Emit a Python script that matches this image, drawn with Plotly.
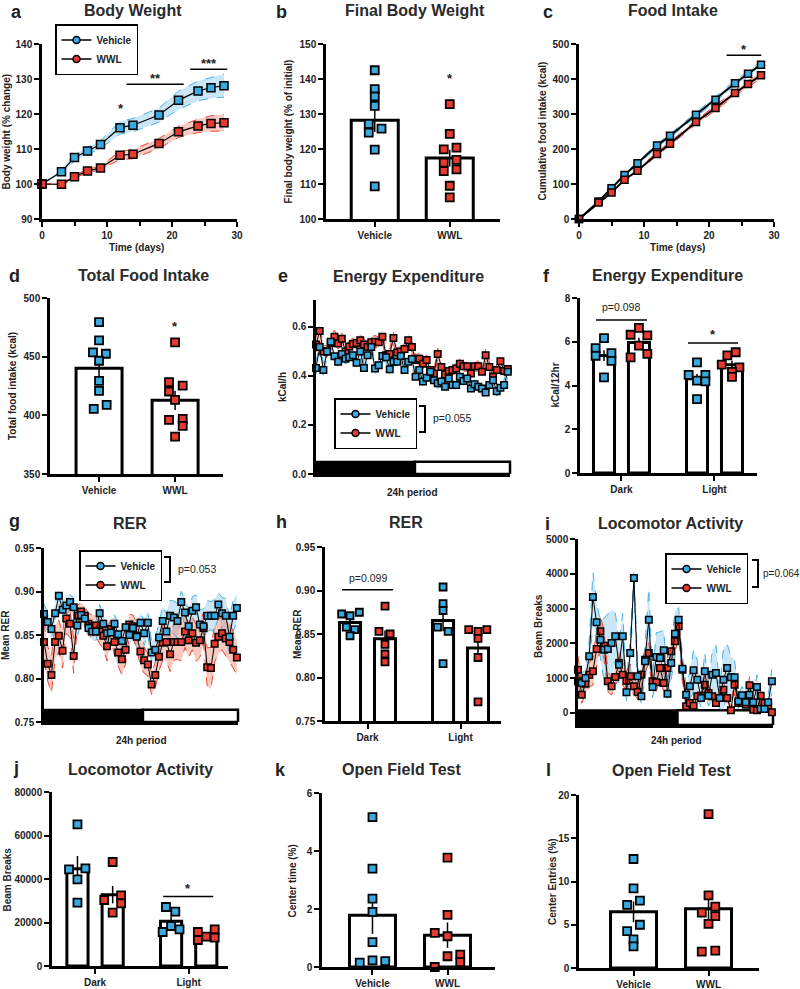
import plotly.graph_objects as go
import statistics as st

W, H = 800, 989
FONT = "Liberation Sans, Arial, Helvetica, sans-serif"
INK = "#222222"
BLUE = "#3AA9E0"
RED = "#E63B2E"
BLUE_LINE = "#45B2E8"
RED_LINE = "#EE4535"
BLUE_FILL = "rgba(80,175,230,0.30)"
RED_FILL = "rgba(235,90,60,0.32)"

# ---------------- data ----------------
# a: body weight (% change)
days = [0, 3, 5, 7, 9, 12, 14, 18, 21, 24, 26, 28]
bw_veh = [100, 103.5, 107.6, 109.4, 111.3, 116.1, 116.8, 119.7, 123.9, 126.6, 127.5, 128.1]
bw_veh_sem = [0, 0.6, 1.0, 1.1, 1.1, 1.8, 1.9, 2.0, 2.6, 2.8, 3.0, 3.3]
bw_wwl = [100, 99.9, 102.1, 103.7, 104.6, 108.2, 108.5, 111.6, 114.9, 116.6, 117.3, 117.5]
bw_wwl_sem = [0, 0.3, 0.4, 0.5, 0.5, 1.2, 1.3, 1.4, 1.6, 1.9, 2.2, 2.4]

# b: final body weight
fbw_veh = [142.5, 137.1, 135.0, 132.3, 127.2, 124.7, 125.8, 119.8, 109.3]
fbw_wwl = [132.8, 124.3, 119.9, 120.4, 116.1, 116.9, 113.7, 114.2, 109.5, 106.2]

# c: cumulative food intake
fi_veh = [0, 50, 88, 126, 159, 210, 238, 298, 341, 388, 415, 441]
fi_veh_sem = [0, 2, 3, 4, 4, 5, 5, 6, 7, 8, 8, 9]
fi_wwl = [0, 47, 76, 112, 138, 186, 215, 277, 317, 360, 386, 411]
fi_wwl_sem = [0, 2, 3, 3, 4, 5, 5, 6, 7, 8, 8, 9]

# d: total food intake
tfi_veh = [479.5, 463.8, 453.6, 452.5, 446.5, 429.4, 420.9, 405.5, 408.9]
tfi_wwl = [462.1, 428.3, 425.4, 420.3, 413.2, 396.1, 396.9, 391.0, 381.9]

# e: energy expenditure over 24h
ee_veh = [0.433, 0.518, 0.424, 0.50, 0.54, 0.48, 0.458, 0.49, 0.47, 0.476,
          0.485, 0.454, 0.50, 0.433, 0.485, 0.518, 0.43, 0.444, 0.482, 0.476,
          0.427, 0.458, 0.458, 0.481, 0.424, 0.458, 0.469, 0.397, 0.424, 0.377,
          0.393, 0.417, 0.383, 0.370, 0.377, 0.356, 0.390, 0.363, 0.363, 0.397,
          0.379, 0.390, 0.349, 0.366, 0.356, 0.349, 0.333, 0.363, 0.383, 0.338,
          0.352, 0.363, 0.417]
ee_veh_sem = [0.025, 0.022, 0.028, 0.02, 0.021, 0.018, 0.02, 0.019, 0.022, 0.018,
              0.021, 0.017, 0.02, 0.022, 0.018, 0.021, 0.019, 0.02, 0.023, 0.018,
              0.02, 0.017, 0.021, 0.019, 0.02, 0.018, 0.02, 0.022, 0.019, 0.02,
              0.018, 0.021, 0.019, 0.02, 0.022, 0.018, 0.02, 0.019, 0.021, 0.018,
              0.02, 0.017, 0.021, 0.019, 0.02, 0.022, 0.018, 0.02, 0.019, 0.02,
              0.018, 0.021, 0.02]
ee_wwl = [0.528, 0.583, 0.50, 0.50, 0.535, 0.56, 0.532, 0.552, 0.50, 0.52,
          0.53, 0.535, 0.546, 0.528, 0.518, 0.538, 0.54, 0.538, 0.56, 0.485,
          0.49, 0.555, 0.496, 0.50, 0.51, 0.546, 0.518, 0.465, 0.47, 0.45,
          0.465, 0.424, 0.41, 0.49, 0.437, 0.406, 0.42, 0.424, 0.43, 0.45,
          0.44, 0.44, 0.41, 0.44, 0.44, 0.417, 0.485, 0.437, 0.397, 0.424,
          0.46, 0.42, 0.428]
ee_wwl_sem = [0.03, 0.028, 0.025, 0.022, 0.025, 0.027, 0.022, 0.025, 0.02, 0.023,
              0.025, 0.021, 0.024, 0.022, 0.02, 0.023, 0.025, 0.021, 0.024, 0.02,
              0.022, 0.025, 0.021, 0.02, 0.023, 0.024, 0.021, 0.02, 0.022, 0.019,
              0.021, 0.02, 0.018, 0.023, 0.02, 0.018, 0.02, 0.021, 0.019, 0.02,
              0.021, 0.019, 0.018, 0.02, 0.021, 0.019, 0.024, 0.02, 0.018, 0.02,
              0.022, 0.019, 0.02]

# f: energy expenditure per 12h
f_dark_veh = [5.71, 6.17, 5.36, 5.48, 5.13, 4.37]
f_dark_wwl = [6.32, 6.63, 6.29, 5.82, 5.29, 5.45]
f_light_veh = [5.06, 4.49, 4.49, 4.22, 4.19, 3.38]
f_light_wwl = [5.38, 5.52, 4.95, 4.83, 4.62, 4.39]

# g: RER over 24h
rer_veh = [0.874, 0.865, 0.857, 0.875, 0.895, 0.879, 0.884, 0.888, 0.882, 0.861,
           0.873, 0.869, 0.858, 0.854, 0.854, 0.875, 0.863, 0.852, 0.853, 0.863,
           0.851, 0.843, 0.859, 0.850, 0.858, 0.848, 0.864, 0.852, 0.864, 0.830,
           0.833, 0.847, 0.866, 0.854, 0.872, 0.870, 0.866, 0.888, 0.876, 0.860,
           0.878, 0.882, 0.862, 0.860, 0.872, 0.872, 0.872, 0.885, 0.875, 0.872,
           0.848, 0.872, 0.881]
rer_veh_sem = [0.012, 0.01, 0.011, 0.01, 0.008, 0.01, 0.011, 0.009, 0.01, 0.012,
               0.01, 0.011, 0.009, 0.01, 0.011, 0.01, 0.009, 0.01, 0.011, 0.01,
               0.012, 0.011, 0.01, 0.012, 0.011, 0.013, 0.012, 0.014, 0.013, 0.012,
               0.014, 0.016, 0.018, 0.02, 0.018, 0.019, 0.02, 0.012, 0.015, 0.018,
               0.016, 0.014, 0.017, 0.02, 0.018, 0.016, 0.019, 0.014, 0.018, 0.02,
               0.022, 0.018, 0.016]
rer_wwl = [0.842, 0.817, 0.804, 0.842, 0.849, 0.832, 0.869, 0.863, 0.826, 0.872,
           0.877, 0.872, 0.863, 0.860, 0.861, 0.854, 0.849, 0.837, 0.857, 0.842,
           0.830, 0.822, 0.833, 0.862, 0.860, 0.849, 0.831, 0.821, 0.816, 0.793,
           0.804, 0.825, 0.841, 0.842, 0.828, 0.842, 0.842, 0.842, 0.854, 0.844,
           0.852, 0.841, 0.844, 0.858, 0.813, 0.812, 0.840, 0.848, 0.852, 0.846,
           0.842, 0.833, 0.824]
rer_wwl_sem = [0.022, 0.02, 0.021, 0.02, 0.018, 0.02, 0.017, 0.016, 0.02, 0.012,
               0.01, 0.011, 0.012, 0.013, 0.012, 0.014, 0.015, 0.017, 0.013, 0.015,
               0.016, 0.018, 0.016, 0.012, 0.013, 0.015, 0.017, 0.015, 0.013, 0.012,
               0.015, 0.016, 0.02, 0.022, 0.02, 0.021, 0.02, 0.022, 0.018, 0.02,
               0.019, 0.021, 0.02, 0.018, 0.022, 0.024, 0.021, 0.02, 0.019, 0.02,
               0.022, 0.021, 0.02]

# h: mean RER
h_dark_veh = [0.873, 0.871, 0.875, 0.858, 0.855, 0.848]
h_dark_wwl = [0.882, 0.853, 0.850, 0.838, 0.827, 0.818]
h_light_veh = [0.904, 0.885, 0.877, 0.858, 0.853, 0.816]
h_light_wwl = [0.855, 0.853, 0.855, 0.845, 0.823, 0.772]

# i: locomotor activity over 24h
loc_veh = [910, 862, 1006, 1628, 3333, 2605, 2107, 1820, 1839, 2011,
           2203, 1389, 2203, 594, 1724, 3879, 1054, 479, 1485, 2682,
           747, 1609, 1580, 1801, 556, 1437, 2280, 2682, 1274, 527,
           766, 1226, 958, 431, 1197, 498, 1102, 1149, 431, 958,
           1293, 1025, 1025, 335, 508, 307, 527, 307, 747, 115,
           115, 307, 910]
loc_veh_sem = [300, 250, 300, 450, 700, 600, 500, 900, 1000, 950,
               700, 600, 650, 250, 450, 200, 400, 200, 500, 900,
               300, 700, 750, 600, 250, 500, 650, 350, 400, 250,
               400, 600, 550, 250, 550, 300, 700, 800, 300, 900,
               700, 600, 500, 200, 250, 200, 300, 200, 350, 80,
               100, 200, 350]
loc_wwl = [1245, 527, 843, 1102, 1197, 1839, 2347, 1935, 910, 766,
           1034, 1437, 1102, 929, 1054, 766, 604, 1102, 1533, 1724,
           910, 881, 1293, 862, 1293, 1772, 2059, 2490, 1245, 192,
           287, 211, 479, 498, 814, 575, 479, 287, 431, 671,
           431, 77, 814, 287, 287, 240, 795, 96, 77, 498,
           287, 211, 19]
loc_wwl_sem = [400, 250, 300, 350, 400, 500, 450, 400, 300, 250,
               300, 350, 300, 300, 350, 250, 200, 300, 350, 300,
               250, 250, 350, 250, 300, 350, 350, 300, 300, 80,
               100, 100, 150, 150, 250, 200, 150, 100, 150, 200,
               150, 60, 250, 100, 100, 100, 250, 60, 60, 150,
               100, 80, 30]

# j: locomotor activity per phase
j_dark_veh = [65135, 44444, 44904, 39847, 29119]
j_dark_wwl = [47816, 30345, 32490, 28812, 24521]
j_light_veh = [27126, 24980, 18391, 15632, 16858]
j_light_wwl = [15632, 16858, 13487, 11954, 13027]

# k: open field center time (%)
k_veh = [5.17, 3.39, 2.36, 1.90, 0.86, 0.15, 0.23, 0.20]
k_wwl = [3.77, 1.80, 1.18, 1.06, 0.37, 0.43, 0.17, 0.0]

# l: open field center entries (%)
l_veh = [12.6, 9.2, 7.3, 7.8, 5.0, 4.27, 3.3, 2.5]
l_wwl = [17.8, 8.4, 6.4, 7.1, 6.0, 5.1, 1.9, 2.0]

groups2 = ["Vehicle", "WWL"]
phases = ["Dark", "Light"]

# ---------------- layout helpers (positions / styles) ----------------
fig = go.Figure()
TICKFONT = dict(family=FONT, size=10, color=INK, weight="bold")


def r(kind, n):
    return kind + ("" if n == 1 else str(n))


def setup(n, xpx, ypx, xr, yr, xt=None, yt=None):
    base = dict(showline=True, linecolor="black", linewidth=2.5, ticks="outside",
                ticklen=5, tickwidth=2, tickcolor="black", showgrid=False, automargin=False,
                zeroline=False, tickfont=TICKFONT, fixedrange=True)
    xa = dict(base, domain=[xpx[0] / W, xpx[1] / W], anchor=r("y", n), range=xr)
    xa.update(xt or {})
    ya = dict(base, domain=[1 - ypx[1] / H, 1 - ypx[0] / H], anchor=r("x", n), range=yr)
    ya.update(yt or {})
    fig.update_layout({r("x", n).replace("x", "xaxis"): xa, r("y", n).replace("y", "yaxis"): ya})


def ann(xp, yp, text, size=10, bold=True, xanchor="center", angle=0, color=INK):
    fig.add_annotation(x=xp / W, y=1 - yp / H, xref="paper", yref="paper", text=text,
                       showarrow=False, xanchor=xanchor, yanchor="middle", textangle=angle,
                       font=dict(family=FONT, size=size, color=color,
                                 weight="bold" if bold else "normal"))


def star(n, x, y, text="*"):
    fig.add_annotation(x=x, y=y, xref=r("x", n), yref=r("y", n), text=text, showarrow=False,
                       yshift=-3, font=dict(family=FONT, size=13, color=INK, weight="bold"))


def ptext(n, x, y, text):
    fig.add_annotation(x=x, y=y, xref=r("x", n), yref=r("y", n), text=text, showarrow=False,
                       font=dict(family=FONT, size=10.5, color=INK))


def hline(n, x0, x1, y):
    fig.add_shape(type="line", xref=r("x", n), yref=r("y", n), x0=x0, x1=x1, y0=y, y1=y,
                  line=dict(color="black", width=1.5))


def series(n, x, mean, sem, color, lcolor, fill, msize=8, lw=1.2):
    lo = [m - s for m, s in zip(mean, sem)]
    hi = [m + s for m, s in zip(mean, sem)]
    common = dict(xaxis=r("x", n), yaxis=r("y", n), showlegend=False, hoverinfo="skip")
    fig.add_trace(go.Scatter(x=x, y=lo, mode="lines", line=dict(color=lcolor, width=1, dash="dash"), **common))
    fig.add_trace(go.Scatter(x=x, y=hi, mode="lines", line=dict(color=lcolor, width=1, dash="dash"),
                             fill="tonexty", fillcolor=fill, **common))
    return lambda: fig.add_trace(go.Scatter(
        x=x, y=mean, mode="lines+markers", line=dict(color="black", width=lw),
        marker=dict(symbol="square", size=msize, color=color, line=dict(color="black", width=1.5)),
        cliponaxis=False, **common))


def bar_group(n, pos, vals, dx, color, width, msize=8):
    mean = st.mean(vals)
    sem = st.stdev(vals) / len(vals) ** 0.5
    common = dict(xaxis=r("x", n), yaxis=r("y", n), showlegend=False, hoverinfo="skip")
    fig.add_trace(go.Bar(x=[pos], y=[mean], width=width,
                         marker=dict(color="white", line=dict(color="black", width=3)),
                         error_y=dict(type="data", array=[sem], color="black", thickness=1.5, width=0),
                         **common))
    fig.add_trace(go.Scatter(x=[pos + d for d in dx], y=vals, mode="markers",
                             marker=dict(symbol="square", size=msize, color=color,
                                         line=dict(color="black", width=1.8)),
                             cliponaxis=False, **common))


def legend_entries(n, lname):
    for name, color in zip(groups2, [BLUE, RED]):
        fig.add_trace(go.Scatter(x=[None], y=[None], mode="lines+markers", name=name,
                                 line=dict(color="black", width=1.5),
                                 marker=dict(symbol="circle", size=7, color=color,
                                             line=dict(color="black", width=1.5)),
                                 xaxis=r("x", n), yaxis=r("y", n), legend=lname, showlegend=True))


def legend_box(xl, yt):
    return dict(x=xl / W, y=1 - yt / H, xanchor="left", yanchor="top", bgcolor="white",
                bordercolor="black", borderwidth=1.5, itemwidth=30, tracegroupgap=0,
                traceorder="normal",
                font=dict(family=FONT, size=10, color=INK, weight="bold"))


def bracket(x, y0, y1, tick=6):
    p = lambda a, b: f"{a / W} {1 - b / H}"
    fig.add_shape(type="path", xref="paper", yref="paper",
                  path=f"M {p(x - tick, y0)} L {p(x, y0)} L {p(x, y1)} L {p(x - tick, y1)}",
                  line=dict(color="black", width=2))


def daynight(n, y0, y1, split=0.51):
    fig.add_shape(type="rect", xref=r("x", n) + " domain", yref=r("y", n), x0=0, x1=split,
                  y0=y0, y1=y1, fillcolor="black", line=dict(color="black", width=2), layer="below")
    fig.add_shape(type="rect", xref=r("x", n) + " domain", yref=r("y", n), x0=split, x1=1,
                  y0=y0, y1=y1, fillcolor="white", line=dict(color="black", width=2.5), layer="below")


BAR_XT = lambda labels: dict(tickvals=[0, 1], ticktext=labels)
GDX = 0.188  # group offset for grouped bars
NARROW = 0.226
MINOR = dict(dtick=5, ticks="outside", ticklen=4, tickwidth=2, tickcolor="black", showgrid=False)

# ---------------- panel a ----------------
setup(1, (42, 237), (44, 219), [0, 30], [90, 140],
      xt=dict(dtick=10, tick0=0, minor=MINOR), yt=dict(dtick=10, tick0=90))
d1 = series(1, days, bw_veh, bw_veh_sem, BLUE, BLUE_LINE, BLUE_FILL)
d2 = series(1, days, bw_wwl, bw_wwl_sem, RED, RED_LINE, RED_FILL)
d1(); d2()
legend_entries(1, "legend")
star(1, 12.1, 122.5)
hline(1, 13.0, 21.8, 128.5); star(1, 17.5, 131.1, "**")
hline(1, 22.8, 28.5, 132.8); star(1, 25.7, 135.3, "***")

# ---------------- panel b ----------------
setup(2, (326, 500), (44, 219), [-0.65, 1.67], [100, 150],
      xt=BAR_XT(groups2), yt=dict(dtick=10, tick0=100))
bar_group(2, 0, fbw_veh, [0, 0, 0, 0, -0.08, -0.08, 0.09, 0, 0], BLUE, 0.627)
bar_group(2, 1, fbw_wwl, [0, 0, -0.08, 0.09, -0.08, 0.09, -0.08, 0.09, 0, 0], RED, 0.627)
star(2, 1, 140.9)

# ---------------- panel c ----------------
setup(3, (579, 774), (44, 219), [0, 30], [0, 500],
      xt=dict(dtick=10, tick0=0, minor=MINOR), yt=dict(dtick=100, tick0=0))
c1 = series(3, days, fi_veh, fi_veh_sem, BLUE, BLUE_LINE, BLUE_FILL, msize=7, lw=2)
c2 = series(3, days, fi_wwl, fi_wwl_sem, RED, RED_LINE, RED_FILL, msize=7, lw=2)
c1(); c2()
hline(3, 22.7, 28.05, 467.6); star(3, 25.4, 493)

# ---------------- panel d ----------------
setup(4, (50, 223), (298, 474), [-0.645, 1.63], [350, 500],
      xt=BAR_XT(groups2), yt=dict(dtick=50, tick0=350))
bar_group(4, 0, tfi_veh, [0, 0, -0.08, 0.09, 0, 0, 0, -0.07, 0.1], BLUE, 0.605)
bar_group(4, 1, tfi_wwl, [0, -0.08, 0.1, -0.08, 0, -0.08, 0.1, 0.1, 0], RED, 0.605)
star(4, 1, 478.6)

# ---------------- panel e ----------------
idx = list(range(len(ee_veh)))
setup(5, (316, 510), (300, 474), [0, 52.6], [0, 0.71],
      xt=dict(showticklabels=False, ticks=""),
      yt=dict(dtick=0.2, tick0=0, tickformat=".1f"))
daynight(5, 0, 0.05)
e1 = series(5, idx, ee_veh, ee_veh_sem, BLUE, BLUE_LINE, BLUE_FILL, msize=6.5, lw=1)
e2 = series(5, idx, ee_wwl, ee_wwl_sem, RED, RED_LINE, RED_FILL, msize=6.5, lw=1)
e2(); e1()
legend_entries(5, "legend2")
bracket(425, 406, 432)
ann(431, 418, "p=0.055", size=10.5, bold=False, xanchor="left")

# ---------------- panel f ----------------
setup(6, (580, 757), (298, 473), [-0.446, 1.457], [0, 8],
      xt=BAR_XT(phases), yt=dict(dtick=2, tick0=0))
bar_group(6, 0 - GDX, f_dark_veh, [-0.09, 0, -0.09, 0.08, 0.08, 0], BLUE, NARROW)
bar_group(6, 0 + GDX, f_dark_wwl, [-0.09, 0, 0.09, 0, -0.09, 0.09], RED, NARROW)
bar_group(6, 1 - GDX, f_light_veh, [0, -0.09, 0.09, 0, 0.09, 0], BLUE, NARROW)
bar_group(6, 1 + GDX, f_light_wwl, [-0.05, 0.04, -0.11, 0.08, 0, 0], RED, NARROW)
hline(6, -0.274, 0.274, 7.0); ptext(6, 0, 7.57, "p=0.098")
hline(6, 0.715, 1.253, 5.94); star(6, 0.984, 6.45)

# ---------------- panel g ----------------
setup(7, (44, 238), (548, 722), [0, 52.3], [0.75, 0.95],
      xt=dict(showticklabels=False, ticks=""),
      yt=dict(dtick=0.05, tick0=0.75, tickformat=".2f"))
daynight(7, 0.75, 0.764)
g1 = series(7, idx, rer_veh, rer_veh_sem, BLUE, BLUE_LINE, BLUE_FILL, msize=6.5, lw=1)
g2 = series(7, idx, rer_wwl, rer_wwl_sem, RED, RED_LINE, RED_FILL, msize=6.5, lw=1)
g2(); g1()
legend_entries(7, "legend3")
bracket(170, 557, 582)
ann(176, 569, "p=0.053", size=10.5, bold=False, xanchor="left")

# ---------------- panel h ----------------
setup(8, (325, 501), (547, 721), [-0.457, 1.435], [0.75, 0.95],
      xt=BAR_XT(phases), yt=dict(dtick=0.05, tick0=0.75, tickformat=".2f"))
bar_group(8, 0 - GDX, h_dark_veh, [-0.09, 0, 0.1, -0.04, 0.05, 0], BLUE, NARROW, msize=7)
bar_group(8, 0 + GDX, h_dark_wwl, [0, -0.065, 0.055, 0, 0, 0], RED, NARROW, msize=7)
bar_group(8, 1 - GDX, h_light_veh, [0, 0, 0, -0.06, 0.055, 0], BLUE, NARROW, msize=7)
bar_group(8, 1 + GDX, h_light_wwl, [-0.1, 0, 0.095, 0, 0, 0], RED, NARROW, msize=7)
hline(8, -0.274, 0.274, 0.901); ptext(8, 0, 0.914, "p=0.099")

# ---------------- panel i ----------------
setup(9, (578, 773), (539, 725), [0, 52.3], [-345, 5000],
      xt=dict(showticklabels=False, ticks=""),
      yt=dict(dtick=1000, tick0=0, tickformat="d"))
daynight(9, -345, 80)
i1 = series(9, idx, loc_veh, loc_veh_sem, BLUE, BLUE_LINE, BLUE_FILL, msize=6.5, lw=1)
i2 = series(9, idx, loc_wwl, loc_wwl_sem, RED, RED_LINE, RED_FILL, msize=6.5, lw=1)
i2(); i1()
legend_entries(9, "legend4")
bracket(758, 560, 587)
ann(761, 573, "p=0.064", size=10, bold=False, xanchor="left")

# ---------------- panel j ----------------
setup(10, (52, 228), (792, 966), [-0.46, 1.42], [0, 80000],
      xt=BAR_XT(phases), yt=dict(dtick=20000, tick0=0, tickformat="d"))
bar_group(10, 0 - GDX, j_dark_veh, [0, -0.09, 0.085, 0, 0], BLUE, NARROW)
bar_group(10, 0 + GDX, j_dark_wwl, [0, -0.09, 0.09, 0.09, 0], RED, NARROW)
bar_group(10, 1 - GDX, j_light_veh, [-0.055, 0.045, 0, -0.09, 0.09], BLUE, NARROW)
bar_group(10, 1 + GDX, j_light_wwl, [-0.09, 0.09, 0, -0.09, 0.09], RED, NARROW)
hline(10, 0.727, 1.262, 31900); star(10, 0.995, 36800)

# ---------------- panel k ----------------
setup(11, (322, 495), (793, 967), [-0.673, 1.633], [0, 6],
      xt=BAR_XT(groups2), yt=dict(dtick=2, tick0=0))
bar_group(11, 0, k_veh, [0, 0, 0, 0, 0, -0.17, 0, 0.17], BLUE, 0.613)
bar_group(11, 1, k_wwl, [0, 0, -0.17, 0, 0, 0.17, 0.17, -0.17], RED, 0.613)

# ---------------- panel l ----------------
setup(12, (579, 759), (795, 968), [-0.727, 1.673], [0, 20],
      xt=BAR_XT(groups2), yt=dict(dtick=5, tick0=0))
bar_group(12, 0, l_veh, [0, 0, -0.085, 0.085, 0.085, -0.085, 0, 0], BLUE, 0.613)
bar_group(12, 1, l_wwl, [0, 0, -0.09, 0.09, 0.09, 0, -0.09, 0.09], RED, 0.613)

# ---------------- titles, letters, axis titles ----------------
titles = [("a", "Body Weight", 16, 11.5, 133, 10.5), ("b", "Final Body Weight", 281, 11.5, 415, 10.5),
          ("c", "Food Intake", 548, 11.5, 673, 10.5), ("d", "Total Food Intake", 14, 275.5, 143, 275.5),
          ("e", "Energy Expenditure", 282.5, 275.5, 408, 276.5), ("f", "Energy Expenditure", 546, 275.5, 667, 275.5),
          ("g", "RER", 14, 521, 130, 523.5), ("h", "RER", 281, 522, 406, 522.5),
          ("i", "Locomotor Activity", 547, 523.5, 670, 523), ("j", "Locomotor Activity", 15.5, 768, 140, 769),
          ("k", "Open Field Test", 280.5, 770, 402, 769.5), ("l", "Open Field Test", 548, 770, 672, 770)]
for letter, title, lx, ly, tx, ty in titles:
    ann(lx, ly, letter, size=18)
    ann(tx, ty, title, size=16, color="#2a2a2a")

ytitles = [("Body weight (% change)", 6, 131.5), ("Final body weight (% of initial)", 288, 131.5),
           ("Cumulative food intake (kcal)", 542, 131.5), ("Total food intake (kcal)", 12, 386),
           ("kCal/h", 283, 387), ("kCal/12hr", 555, 385.5), ("Mean RER", 5, 635),
           ("Mean RER", 297, 634), ("Beam Breaks", 538, 626), ("Beam Breaks", 6.5, 880),
           ("Center time (%)", 291.5, 881), ("Center Entries (%)", 552, 882)]
for text, x, y in ytitles:
    ann(x, y, text, size=10, angle=-90)

xtitles = [("Time (days)", 136, 248), ("Time (days)", 677, 248), ("24h period", 412, 492),
           ("24h period", 141, 740), ("24h period", 676, 740)]
for text, x, y in xtitles:
    ann(x, y, text, size=10)

fig.update_layout(
    template="none",
    width=W, height=H, margin=dict(l=0, r=0, t=0, b=0, autoexpand=False),
    paper_bgcolor="white", plot_bgcolor="white", barmode="overlay",
    font=dict(family=FONT, color=INK),
    legend=legend_box(55, 24), legend2=legend_box(334, 398),
    legend3=legend_box(79, 550), legend4=legend_box(665, 553),
)

fig.write_html("out.html", config={"displayModeBar": False},
               post_script="document.body.style.margin='0px';document.body.style.overflow='hidden';")
